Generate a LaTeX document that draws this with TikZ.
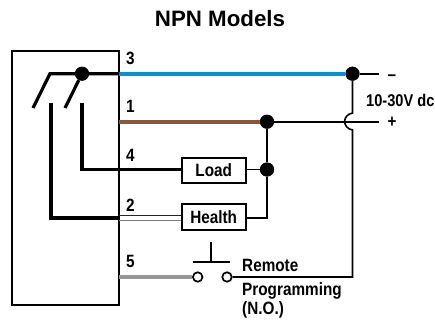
\documentclass[tikz,border=0pt]{standalone}
\usepackage{fontspec}
\setmainfont{Liberation Sans}
\newfontfamily\condfont[FakeStretch=0.86]{Liberation Sans}
\begin{document}
\begin{tikzpicture}[x=1pt,y=-1pt,
  lbl/.style={inner sep=0pt,anchor=base west,font=\condfont\bfseries\fontsize{17.8}{20}\selectfont},
  termbox/.style={draw=black,line width=1.8pt,fill=white,inner sep=0pt,minimum width=64pt},
  boxtext/.style={inner sep=0pt,anchor=base,font=\condfont\bfseries\fontsize{17.8}{20}\selectfont},
  wire/.style={line width=1.6pt,black},
  heavy/.style={line width=3.2pt,black},
  jdot/.style={circle,fill=black,inner sep=0pt,minimum size=14pt},
  pin/.style={circle,draw=black,line width=1.7pt,fill=white,inner sep=0pt,minimum size=9.5pt}]
\useasboundingbox (0,0) rectangle (435,321);
\node[inner sep=0pt,anchor=base,font=\bfseries\fontsize{22.3}{26}\selectfont] (title) at (220,27) {NPN Models};
\node[draw=black,line width=1.6pt,minimum width=107pt,minimum height=254pt,inner sep=0pt] (sensor) at (65.5,178) {};
% named points
\coordinate (p3) at (119,73.7);
\coordinate (p1) at (119,121.7);
\coordinate (p4) at (119,169.5);
\coordinate (p2) at (119,217.7);
\coordinate (p5) at (119,277);
\coordinate (sw1) at (50,73.7);
\coordinate (sw1e) at (33,108);
\coordinate (sw2e) at (65,108);
\coordinate (c1) at (51,103);
\coordinate (c1b) at (51,217.7);
\coordinate (c2) at (82,103);
\coordinate (c2b) at (82,169.5);
\coordinate (minus) at (379,73.7);
\coordinate (plus) at (379,121.7);
\coordinate (hopa) at (352.5,113);
\coordinate (hopb) at (352.5,130);
\coordinate (corner) at (352.5,277);
\coordinate (hcorner) at (267,217.7);
\coordinate (bl) at (193,262);
\coordinate (br) at (230,262);
\coordinate (st) at (211,242);
\coordinate (sb) at (211,262);
% nodes
\node[termbox,minimum height=25pt] (load) at (214,170.5) {};
\node[termbox,minimum height=26pt] (health) at (214,217) {};
\node[boxtext] (loadtext) at (213.7,176.7) {Load};
\node[boxtext] (healthtext) at (213.7,223.3) {Health};
\node[jdot] (d0) at (82,73.7) {};
\node[jdot] (d3) at (352.5,73.7) {};
\node[jdot] (d1) at (267,121.7) {};
\node[jdot] (d4) at (267,169.5) {};
\node[pin] (s1) at (197.7,277) {};
\node[pin] (s2) at (227,277) {};
% coloured wires
\draw[line width=3.6pt,color={rgb,255:red,0;green,146;blue,214}] (p3) -- (d3);
\draw[line width=3.6pt,color={rgb,255:red,139;green,87;blue,60}] (p1) -- (d1);
\draw[line width=3.6pt,color={rgb,255:red,150;green,150;blue,150}] (p5) -- (s1);
\draw[line width=1pt,black!85] (119,215.6) -- (health.west |- 0,215.6);
\draw[line width=1.5pt,black!50] (119,220.4) -- (health.west |- 0,220.4);
% internal switch
\draw[heavy,line join=miter] (p3) -- (sw1) -- (sw1e);
\draw[heavy] (d0) -- (sw2e);
\draw[heavy,line width=4pt,line join=miter] (c1) -- (c1b) -- (p2);
\draw[heavy,line join=miter] (c2) -- (c2b) -- (load.west |- c2b);
% external wiring
\draw[wire] (d3) -- (minus);
\draw[wire] (d1) -- (plus);
\draw[wire] (d1) -- (d4);
\draw[wire,line join=miter] (d4) -- (hcorner) -- (health.east |- hcorner);
\draw[wire] (load.east |- d4) -- (d4);
\draw[wire] (d3) -- (hopa) .. controls (342,115) and (342,128) .. (hopb) -- (corner) -- (s2);
\draw[wire] (bl) -- (br);
\draw[wire] (st) -- (sb);
% redraw junction dots on top
\node[jdot] at (d0) {};
\node[jdot] at (d3) {};
\node[jdot] at (d1) {};
\node[jdot] at (d4) {};
% labels
\node[lbl] (l3) at (126,64) {3};
\node[lbl] (l1) at (126,112.7) {1};
\node[lbl] (l4) at (126,161.7) {4};
\node[lbl] (l2) at (126,211.7) {2};
\node[lbl] (l5) at (126,267.3) {5};
\node[lbl] (lm) at (387.5,80) {–};
\node[lbl] (lp) at (387.5,127) {+};
\node[lbl,font=\condfont\bfseries\fontsize{17}{20}\selectfont] (lv) at (366,106.7) {10-30V dc};
\node[lbl] (r1) at (242,271.7) {Remote};
\node[lbl] (r2) at (242,295) {Programming};
\node[lbl] (r3) at (242,314) {(N.O.)};
\end{tikzpicture}
\end{document}
